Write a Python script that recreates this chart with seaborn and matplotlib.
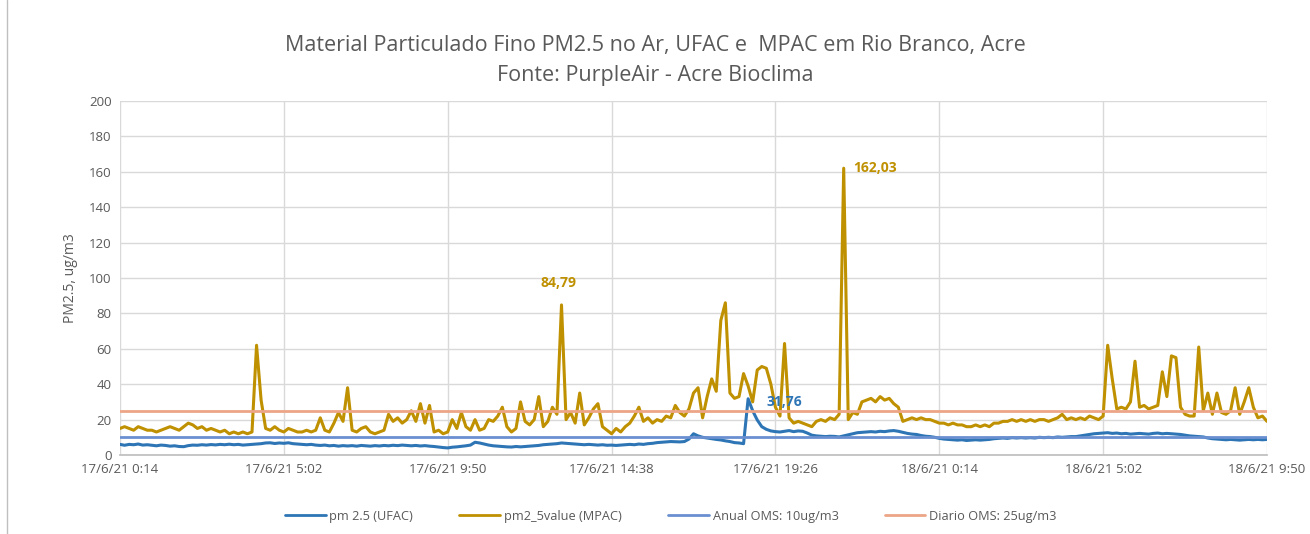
import numpy as np
import pandas as pd
import matplotlib
matplotlib.use("Agg")
import matplotlib.pyplot as plt
import matplotlib.dates as mdates
from matplotlib.lines import Line2D
import seaborn as sns

sns.set_theme(style="whitegrid")
plt.rcParams["font.family"] = ["Open Sans", "DejaVu Sans"]

# ---------- data (8-minute steps) ----------
START = "2021-06-17 00:14"
END = "2021-06-18 09:50"
ANUAL_OMS = 10
DIARIO_OMS = 25

mpac = [
    15, 16, 15, 14, 16, 15, 14, 14, 13, 14,
    15, 16, 15, 14, 16, 18, 17, 15, 16, 14,
    15, 14, 13, 14, 12, 13, 12, 13, 12, 13,
    62, 31, 15, 14, 16, 14, 13, 15, 14, 13,
    13, 14, 13, 14, 21, 14, 13, 18, 24, 19,
    38, 14, 13, 15, 16, 13, 12, 13, 14, 23,
    19, 21, 18, 20, 25, 19, 29, 18, 28, 13,
    14, 12, 13, 20, 15, 24, 16, 14, 20, 14,
    15, 20, 19, 22, 27, 16, 13, 15, 30, 19,
    17, 20, 33, 16, 19, 27, 23, 84.79, 20, 24,
    18, 35, 17, 21, 26, 29, 16, 14, 12, 15,
    13, 16, 18, 22, 27, 19, 21, 18, 20, 19,
    22, 21, 28, 24, 22, 26, 35, 38, 21, 33,
    43, 36, 76, 86, 35, 32, 33, 46, 39, 30,
    48, 50, 49, 40, 27, 22, 63, 21, 18, 19,
    18, 17, 16, 19, 20, 19, 21, 20, 23, 162.03,
    20, 24, 23, 30, 31, 32, 30, 33, 31, 32,
    29, 27, 19, 20, 21, 20, 21, 20, 20, 19,
    18, 18, 17, 18, 17, 17, 16, 16, 17, 16,
    17, 16, 18, 18, 19, 19, 20, 19, 20, 19,
    20, 19, 20, 20, 19, 20, 21, 23, 20, 21,
    20, 21, 20, 22, 21, 20, 22, 62, 43, 26,
    27, 26, 30, 53, 27, 28, 26, 27, 28, 47,
    33, 56, 55, 27, 23, 22, 22, 61, 25, 35,
    23, 35, 24, 23, 25, 38, 23, 30, 38, 27,
    21, 22, 19,
]

ufac = [
    6.0, 5.5, 6.0, 5.8, 6.2, 5.6, 5.8, 5.5, 5.2, 5.6,
    5.4, 5.0, 5.2, 4.8, 4.7, 5.3, 5.6, 5.5, 5.8, 5.6,
    5.9, 5.7, 6.0, 5.8, 6.1, 5.8, 6.0, 5.6, 5.8, 6.0,
    6.2, 6.4, 6.8, 6.9, 6.5, 6.8, 6.6, 6.9, 6.4, 6.2,
    6.0, 5.8, 6.0, 5.6, 5.4, 5.6, 5.2, 5.4, 5.0, 5.3,
    5.1, 5.3, 5.0, 5.4, 5.2, 5.0, 5.3, 5.1, 5.4, 5.2,
    5.5, 5.3, 5.6, 5.4, 5.2, 5.4, 5.1, 5.3, 5.0, 4.8,
    4.5, 4.2, 4.0, 4.4, 4.6, 4.9, 5.2, 5.6, 7.2, 6.8,
    6.2, 5.6, 5.2, 5.0, 4.8, 4.6, 4.5, 4.8, 4.6, 4.8,
    5.0, 5.2, 5.4, 5.8, 6.0, 6.2, 6.4, 6.8, 6.6, 6.4,
    6.2, 6.0, 5.8, 6.0, 5.8, 5.6, 5.8, 5.5, 5.6, 5.4,
    5.6, 5.8, 6.0, 5.8, 6.2, 6.0, 6.4, 6.6, 7.0, 7.2,
    7.4, 7.6, 7.5, 7.4, 7.6, 9.0, 12.0, 10.8, 10.0, 9.6,
    9.2, 8.8, 8.5, 8.0, 7.6, 7.0, 6.8, 6.4, 31.76, 25.0,
    19.8, 16.0, 14.5, 13.6, 13.2, 13.0, 13.4, 13.8, 13.2, 13.6,
    13.4, 12.4, 11.2, 10.8, 10.6, 10.4, 10.6, 10.5, 10.2, 10.8,
    11.4, 12.0, 12.6, 12.8, 13.0, 13.2, 13.0, 13.4, 13.2, 13.6,
    13.8, 13.4, 12.8, 12.2, 11.8, 11.6, 11.0, 10.6, 10.4, 10.0,
    9.4, 9.0, 8.8, 8.6, 8.4, 8.6, 8.2, 8.4, 8.6, 8.4,
    8.6, 8.8, 9.2, 9.4, 9.6, 9.4, 9.8, 9.6, 9.8, 9.6,
    9.8, 9.6, 10.0, 9.8, 10.0, 9.8, 10.2, 10.0, 10.2, 10.4,
    10.4, 10.8, 11.2, 11.6, 12.0, 12.2, 12.4, 12.6, 12.2, 12.4,
    12.0, 12.2, 11.8, 12.0, 12.2, 12.0, 11.8, 12.2, 12.4, 12.0,
    12.2, 12.0, 11.8, 11.6, 11.2, 10.8, 10.6, 10.4, 10.2, 9.6,
    9.2, 9.0, 8.8, 8.6, 8.8, 8.6, 8.4, 8.6, 8.8, 8.6,
    8.8, 8.6, 8.8,
]

times = pd.date_range(START, periods=len(mpac), freq="8min")
df = pd.DataFrame({"time": times, "ufac": ufac, "mpac": mpac})
xticks = pd.date_range(START, END, freq="288min")

C_UFAC = "#2E75B6"
C_MPAC = "#BF9000"
C_ANUAL = "#6A8FD0"
C_DIARIO = "#EDA588"

fig = plt.figure(figsize=(13.1, 5.34), dpi=100)
ax = fig.add_axes([120 / 1310, 1 - 455 / 534, 1147 / 1310, 354 / 534])

sns.lineplot(data=df, x="time", y="ufac", color=C_UFAC, lw=2.2, ax=ax, zorder=3)
sns.lineplot(data=df, x="time", y="mpac", color=C_MPAC, lw=2.2, ax=ax, zorder=4)
ax.axhline(ANUAL_OMS, color=C_ANUAL, lw=2, zorder=5)
ax.axhline(DIARIO_OMS, color=C_DIARIO, lw=2, zorder=5)

ax.set_xlim(xticks[0], xticks[-1])
ax.set_ylim(0, 200)
ax.set_yticks(range(0, 201, 20))
ax.set_xticks(xticks)
ax.xaxis.set_major_formatter(plt.FuncFormatter(
    lambda v, p: (lambda d: f"{d.day}/{d.month}/{d.strftime('%y')} {d.hour}:{d.minute:02d}")(mdates.num2date(v))))
ax.tick_params(axis="both", length=0, labelsize=9.5, colors="#595959", pad=6)
ax.grid(True, color="#D9D9D9", lw=1)
for s in ["top", "right", "left"]:
    ax.spines[s].set_visible(False)
ax.spines["bottom"].set_color("#BFBFBF")
ax.set_xlabel("")
ax.set_ylabel("PM2.5, ug/m3", fontsize=10, color="#595959", labelpad=8)

# data labels on the peaks
i_m = int(np.argmax(mpac))
ax.annotate(f"{mpac[i_m]:.2f}".replace(".", ","), (times[i_m], mpac[i_m]),
            xytext=(10, 0), textcoords="offset pixels", ha="left", va="center",
            color=C_MPAC, fontweight="bold", fontsize=10)
i_m2 = 97
ax.annotate(f"{mpac[i_m2]:.2f}".replace(".", ","), (times[i_m2], mpac[i_m2]),
            xytext=(-3, 22), textcoords="offset pixels", ha="center", va="center",
            color=C_MPAC, fontweight="bold", fontsize=10)
i_u = int(np.argmax(ufac))
ax.annotate(f"{ufac[i_u]:.2f}".replace(".", ","), (times[i_u], ufac[i_u]),
            xytext=(18, -3), textcoords="offset pixels", ha="left", va="center",
            color=C_UFAC, fontweight="bold", fontsize=10, zorder=6)

fig.suptitle("Material Particulado Fino PM2.5 no Ar, UFAC e  MPAC em Rio Branco, Acre\n"
             "Fonte: PurpleAir - Acre Bioclima",
             y=0.935, fontsize=15.5, color="#595959", linespacing=1.6)

handles = [Line2D([], [], color=C_UFAC, lw=2),
           Line2D([], [], color=C_MPAC, lw=2),
           Line2D([], [], color=C_ANUAL, lw=2),
           Line2D([], [], color=C_DIARIO, lw=2)]
labels = ["pm 2.5 (UFAC)", "pm2_5value (MPAC)", "Anual OMS: 10ug/m3", "Diario OMS: 25ug/m3"]
leg = fig.legend(handles, labels, loc="center", bbox_to_anchor=(0.512, 0.033), ncol=4,
                 frameon=False, fontsize=9.2, handlelength=3.2, columnspacing=3.6,
                 handletextpad=0.3)
for t in leg.get_texts():
    t.set_color("#595959")

fig.add_artist(Line2D([7 / 1310, 7 / 1310], [0, 1], color="#BFBFBF", lw=1))

fig.savefig("out.png", dpi=100, facecolor="white")
